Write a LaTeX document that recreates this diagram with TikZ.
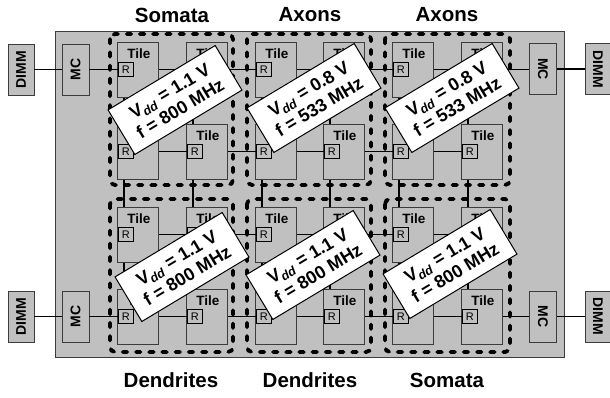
\documentclass[tikz,border=0pt]{standalone}
\usepackage{fontspec}
\setmainfont{Liberation Sans}
\usetikzlibrary{calc}
\definecolor{chipgray}{RGB}{192,192,192}
\definecolor{edgegray}{RGB}{60,60,60}
\tikzset{
  boxbase/.style={draw=edgegray, line width=0.9pt, fill=chipgray, inner sep=0pt},
  tile/.style={boxbase, minimum width=41pt, minimum height=55pt, anchor=north west},
  tiletxt/.style={font=\fontsize{13.5}{14}\selectfont\bfseries, inner sep=0pt},
  rbox/.style={draw=black, line width=0.9pt, fill=chipgray, minimum width=15pt, minimum height=14pt, inner sep=0pt, anchor=north west, font=\fontsize{11}{12}\selectfont},
  memL/.style={boxbase, minimum width=51pt, minimum height=26pt, font=\fontsize{14}{15}\selectfont\bfseries},
  mcbox/.style={boxbase, minimum width=51pt, minimum height=27pt, font=\fontsize{14}{15}\selectfont\bfseries},
  wire/.style={line width=1.1pt, draw=black},
  region/.style={draw=black, line width=3.8pt, line cap=round, dash pattern=on 4.5pt off 8.7pt, rounded corners=5pt},
  lbl/.style={draw=black, line width=1pt, fill=white, minimum width=125pt, minimum height=52pt, inner sep=0pt, align=center, rotate=31, font=\fontsize{18}{20.5}\selectfont\bfseries},
  ttl/.style={font=\fontsize{20.5}{23}\selectfont\bfseries, inner sep=0pt}
}
\begin{document}
\begin{tikzpicture}[x=1pt,y=-1pt]
\useasboundingbox (0,0) rectangle (610,397);
% chip
\node[draw=edgegray, line width=0.9pt, fill=chipgray, anchor=north west, minimum width=509pt, minimum height=326pt, inner sep=0pt] (chip) at (55,31) {};
% memory
\node[memL, rotate=90] (dimmA) at (21,69.5) {DIMM};
\node[mcbox, rotate=90] (mcA) at (75.5,69.5) {MC};
\node[memL, rotate=90] (dimmB) at (21,316.5) {DIMM};
\node[mcbox, rotate=90] (mcB) at (75.5,316.5) {MC};
\node[mcbox, rotate=-90] (mcC) at (543,69) {MC};
\node[memL, rotate=-90] (dimmC) at (598,69) {DIMM};
\node[mcbox, rotate=-90] (mcD) at (543,316.5) {MC};
\node[memL, rotate=-90] (dimmD) at (598,316.5) {DIMM};
% tiles
\foreach \r/\y in {1/42,2/124,3/207,4/289}{
  \foreach \c/\x in {1/117,2/186,3/255,4/323,5/392,6/461}{
    \node[tile] (t\r\c) at (\x,\y) {};
    \node[tiletxt] (tt\r\c) at ($(t\r\c.north)+(1,12)$) {Tile};
    \node[rbox] (r\r\c) at ($(t\r\c.north west)+(1,20)$) {R};
  }
}
% horizontal wires inside rows
\foreach \r in {1,2,3,4}{
  \foreach \c/\n in {1/2,2/3,3/4,4/5,5/6}{
    \draw[wire] (r\r\n -| t\r\c.east) -- (r\r\n.west);
  }
}
% vertical wires
\foreach \r/\n in {1/2,2/3,3/4}{
  \foreach \c in {1,2,3,4,5,6}{
    \draw[wire] ($(t\r\c.south west)+(7,0)$) -- ($(t\n\c.north west)+(7,0)$);
  }
}
% memory wires
\draw[wire] (dimmA) -- (mcA);
\draw[wire] (r11 -| mcA.south) -- (r11.west);
\draw[wire] (dimmB) -- (mcB);
\draw[wire] (r41 -| mcB.south) -- (r41.west);
\draw[wire] (r16 -| t16.east) -- (r16 -| mcC.south);
\draw[wire] (mcC) -- (dimmC);
\draw[wire] (r46 -| t46.east) -- (r46 -| mcD.south);
\draw[wire] (mcD) -- (dimmD);
% voltage/frequency islands
\draw[region] (110,34) rectangle (233,185);
\draw[region] (247,34) rectangle (371,185);
\draw[region] (385,34) rectangle (510,185);
\draw[region] (110,199) rectangle (233,352);
\draw[region] (247,199) rectangle (371,352);
\draw[region] (385,199) rectangle (510,352);
% labels
\node[lbl] (l1) at (175,100) {V\textsubscript{\itshape dd} = 1.1 V\\f = 800 MHz};
\node[lbl] (l2) at (314,98) {V\textsubscript{\itshape dd} = 0.8 V\\f = 533 MHz};
\node[lbl] (l3) at (452,98) {V\textsubscript{\itshape dd} = 0.8 V\\f = 533 MHz};
\node[lbl] (l4) at (182,267) {V\textsubscript{\itshape dd} = 1.1 V\\f = 800 MHz};
\node[lbl] (l5) at (313,265) {V\textsubscript{\itshape dd} = 1.1 V\\f = 800 MHz};
\node[lbl] (l6) at (450,264) {V\textsubscript{\itshape dd} = 1.1 V\\f = 800 MHz};
% titles
\node[ttl] (h1) at (172,15) {Somata};
\node[ttl] (h2) at (310,15) {Axons};
\node[ttl] (h3) at (447,15) {Axons};
\node[ttl] (h4) at (171,380) {Dendrites};
\node[ttl] (h5) at (310,380) {Dendrites};
\node[ttl] (h6) at (447,380) {Somata};
\end{tikzpicture}
\end{document}
